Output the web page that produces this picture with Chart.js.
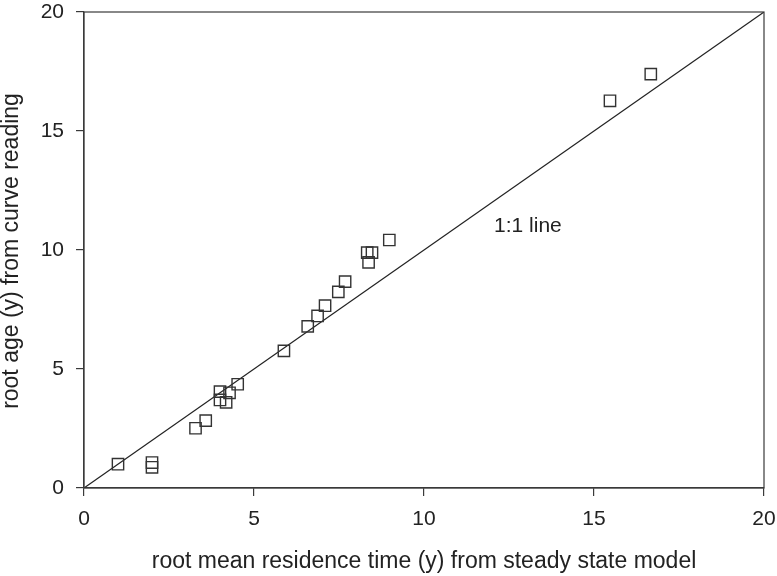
<!DOCTYPE html>
<html><head><meta charset="utf-8">
<script src="https://cdn.jsdelivr.net/npm/chart.js@4"></script>
<style>html,body{margin:0;padding:0;background:#fff}#wrap{width:777px;height:576px}</style>
</head><body><div id="wrap"><canvas id="c" width="777" height="576"></canvas></div>
<script>
const xValues = [1.0, 2.0, 2.0, 3.28, 3.58, 4.0, 4.0, 4.18, 4.28, 4.52, 5.88, 6.58, 6.87, 7.09, 7.48, 7.68, 8.37, 8.33, 8.47, 8.98, 15.47, 16.67];
const yValues = [1.0, 1.07, 0.87, 2.51, 2.83, 4.05, 3.7, 3.6, 4.0, 4.36, 5.76, 6.79, 7.23, 7.66, 8.24, 8.67, 9.48, 9.89, 9.89, 10.42, 16.27, 17.39];
const lineX = [0, 20];
const lineY = [0, 20];
const tickValues = [0, 5, 10, 15, 20];
const xTitle = 'root mean residence time (y) from steady state model';
const yTitle = 'root age (y) from curve reading';
const lineLabel = '1:1 line';
const FONT = '"Liberation Sans", Arial, sans-serif';

const frame = {
  id: 'frame',
  afterDatasetsDraw(chart) {
    const {ctx, chartArea: a} = chart;
    ctx.save();
    ctx.strokeStyle = '#3a3a3a';
    ctx.lineWidth = 1.2;
    ctx.strokeRect(a.left, a.top, a.right - a.left, a.bottom - a.top);
    ctx.fillStyle = '#222';
    ctx.font = '21px ' + FONT;
    ctx.textAlign = 'left';
    ctx.textBaseline = 'middle';
    const xs = chart.scales.x, ys = chart.scales.y;
    ctx.fillText(lineLabel, xs.getPixelForValue(12.06), ys.getPixelForValue(11.0));
    // axis titles
    ctx.font = '23px ' + FONT;
    ctx.textAlign = 'center';
    ctx.textBaseline = 'alphabetic';
    ctx.fillText(xTitle, (a.left + a.right) / 2, 568);
    ctx.translate(18, (a.top + a.bottom) / 2 + 1);
    ctx.rotate(-Math.PI / 2);
    ctx.fillText(yTitle, 0, 0);
    ctx.restore();
  }
};

new Chart(document.getElementById('c'), {
  type: 'scatter',
  data: {
    datasets: [
      {
        data: xValues.map((x, i) => ({x, y: yValues[i]})),
        pointStyle: 'rect',
        pointRadius: 8,
        pointBorderWidth: 1.4,
        pointBorderColor: '#333',
        pointBackgroundColor: 'rgba(255,255,255,0)',
        showLine: false
      },
      {
        data: lineX.map((x, i) => ({x, y: lineY[i]})),
        showLine: true,
        borderColor: '#222',
        borderWidth: 1.2,
        pointRadius: 0,
        fill: false
      }
    ]
  },
  plugins: [frame],
  options: {
    responsive: false,
    animation: false,
    events: [],
    layout: {padding: {top: 12, right: 13, left: 0, bottom: 0}},
    plugins: {legend: {display: false}, tooltip: {enabled: false}},
    scales: {
      x: {
        type: 'linear', min: 0, max: 20,
        afterBuildTicks: s => { s.ticks = tickValues.map(v => ({value: v})); },
        afterFit: s => { s.height = 88; s.paddingLeft = 0; s.paddingRight = 0; },
        grid: {drawOnChartArea: false, tickLength: 8, color: '#3a3a3a', lineWidth: 1.2},
        border: {color: '#3a3a3a', width: 1.2},
        ticks: {color: '#222', font: {family: FONT, size: 21}, padding: 11, maxRotation: 0},
        title: {display: false}
      },
      y: {
        type: 'linear', min: 0, max: 20,
        afterBuildTicks: s => { s.ticks = tickValues.map(v => ({value: v})); },
        afterFit: s => { s.width = 84; s.paddingTop = 0; s.paddingBottom = 0; },
        grid: {drawOnChartArea: false, tickLength: 8, color: '#3a3a3a', lineWidth: 1.2},
        border: {color: '#3a3a3a', width: 1.2},
        ticks: {color: '#222', font: {family: FONT, size: 21}, padding: 12},
        title: {display: false}
      }
    }
  }
});
</script></body></html>
